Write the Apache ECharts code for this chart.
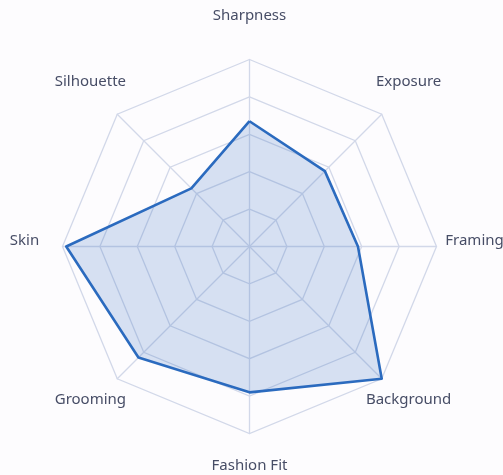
<!DOCTYPE html>
<html>
<head>
<meta charset="utf-8">
<script src="https://cdn.jsdelivr.net/npm/echarts@6/dist/echarts.min.js"></script>
<style>
  html, body { margin: 0; padding: 0; background: #fdfcfe; }
  #chart { width: 503px; height: 475px; }
</style>
</head>
<body>
<div id="chart"></div>
<script>
  // indicators listed counterclockwise from the top (echarts radar order)
  var categories = ["Sharpness", "Silhouette", "Skin", "Grooming", "Fashion Fit", "Background", "Framing", "Exposure"];
  var scores = [0.67, 0.44, 0.98, 0.84, 0.78, 1.0, 0.58, 0.57];

  var chart = echarts.init(document.getElementById("chart"));

  var indicators = [];
  for (var i = 0; i < categories.length; i++) {
    indicators.push({ name: categories[i], min: 0, max: 1 });
  }

  chart.setOption({
    backgroundColor: "#fdfcfe",
    radar: {
      center: [249.5, 246.5],
      radius: 187,
      startAngle: 90,
      splitNumber: 5,
      shape: "polygon",
      indicator: indicators,
      nameGap: 38,
      axisName: {
        color: "#474d66",
        fontFamily: "Noto Sans",
        fontSize: 15,
        lineHeight: 12,
        align: "center",
        verticalAlign: "bottom"
      },
      axisLine: { lineStyle: { color: "#d2d8e9", width: 1.3 } },
      splitLine: { lineStyle: { color: "#d2d8e9", width: 1.3 } },
      splitArea: { show: false }
    },
    series: [{
      type: "radar",
      symbol: "none",
      lineStyle: { color: "#2b6bbf", width: 2.6 },
      areaStyle: { color: "#2e6cbf", opacity: 0.19 },
      data: [{ value: scores }]
    }]
  });
</script>
</body>
</html>
